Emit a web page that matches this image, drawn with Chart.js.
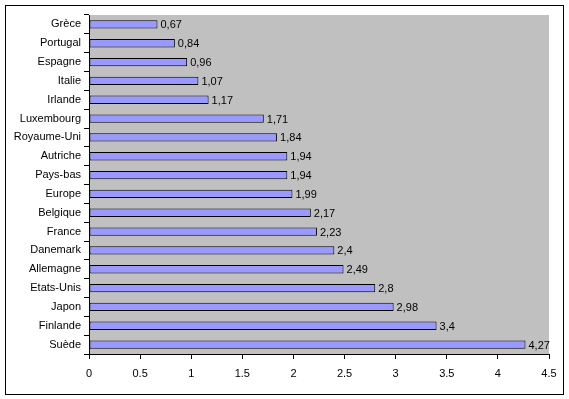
<!DOCTYPE html>
<html>
<head>
<meta charset="utf-8">
<script src="https://cdn.jsdelivr.net/npm/chart.js@4"></script>
<style>
    html, body { margin: 0; padding: 0; background: #fff; }
</style>
</head>
<body>
<canvas id="chart" width="569" height="399"></canvas>
<script>
const countries = ['Grèce', 'Portugal', 'Espagne', 'Italie', 'Irlande', 'Luxembourg', 'Royaume-Uni',
    'Autriche', 'Pays-bas', 'Europe', 'Belgique', 'France', 'Danemark', 'Allemagne', 'Etats-Unis',
    'Japon', 'Finlande', 'Suède'];
const values = [0.67, 0.84, 0.96, 1.07, 1.17, 1.71, 1.84, 1.94, 1.94, 1.99, 2.17, 2.23, 2.4, 2.49,
    2.8, 2.98, 3.4, 4.27];
const xMin = 0;
const xMax = 4.5;
const xStep = 0.5;

const FONT = {family: 'Liberation Sans, Arial, sans-serif', size: 11};

// gray plot area + black frame round the whole picture
const framePlugin = {
    id: 'frame',
    beforeDraw(chart) {
        const {ctx, chartArea} = chart;
        ctx.save();
        ctx.fillStyle = '#fff';
        ctx.fillRect(0, 0, chart.width, chart.height);
        ctx.fillStyle = '#c0c0c0';
        ctx.fillRect(chartArea.left, chartArea.top, chartArea.right - chartArea.left, chartArea.bottom - chartArea.top);
        ctx.strokeStyle = '#000';
        ctx.lineWidth = 1;
        ctx.strokeRect(5.5, 5.5, 558, 389);
        ctx.restore();
    }
};

// value labels after each bar, with a comma as decimal mark
const labelPlugin = {
    id: 'valueLabels',
    afterDatasetsDraw(chart) {
        const {ctx} = chart;
        const meta = chart.getDatasetMeta(0);
        ctx.save();
        ctx.font = FONT.size + 'px ' + FONT.family;
        ctx.fillStyle = '#000';
        ctx.textBaseline = 'middle';
        ctx.textAlign = 'left';
        meta.data.forEach((bar, i) => {
            ctx.fillText(String(values[i]).replace('.', ','), bar.x + 3, bar.y + 1);
        });
        ctx.restore();
    }
};

new Chart(document.getElementById('chart'), {
    type: 'bar',
    data: {
        labels: countries,
        datasets: [{
            data: values,
            backgroundColor: '#9999ff',
            borderColor: '#000',
            borderWidth: 1,
            borderSkipped: false,
            categoryPercentage: 1,
            barPercentage: 0.44
        }]
    },
    options: {
        indexAxis: 'y',
        responsive: false,
        animation: false,
        devicePixelRatio: 1,
        layout: {padding: {top: 15, right: 20, left: 0, bottom: 0}},
        plugins: {legend: {display: false}, tooltip: {enabled: false}},
        scales: {
            x: {
                min: xMin,
                max: xMax,
                afterFit(scale) { scale.height = 45; },
                ticks: {stepSize: xStep, color: '#000', font: FONT, padding: 8,
                    callback: (v) => String(v)},
                grid: {drawOnChartArea: false, color: '#000', tickLength: 5},
                border: {color: '#000'}
            },
            y: {
                afterFit(scale) { scale.width = 89; },
                ticks: {color: '#000', font: FONT, padding: 3},
                grid: {drawOnChartArea: false, color: '#000', tickLength: 5, offset: true},
                border: {color: '#000'}
            }
        }
    },
    plugins: [framePlugin, labelPlugin]
});
</script>
</body>
</html>
